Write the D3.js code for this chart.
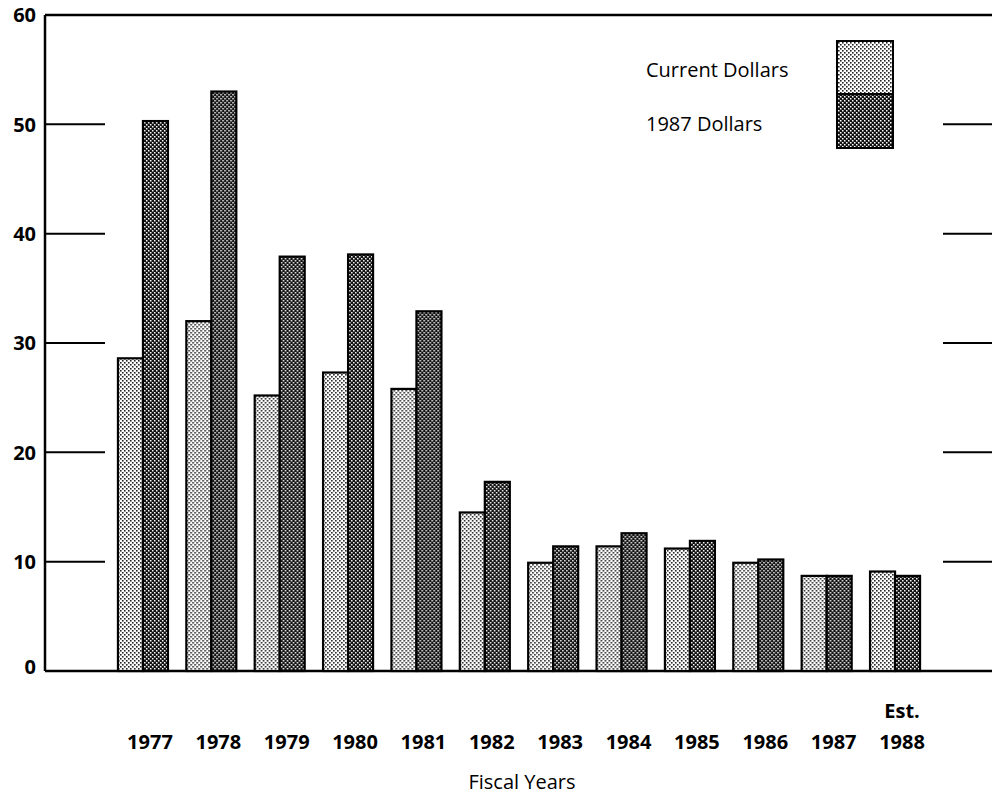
<!DOCTYPE html>
<html>
<head>
<meta charset="utf-8">
<script src="https://cdn.jsdelivr.net/npm/d3@7"></script>
<style>
  html, body { margin: 0; padding: 0; background: #fff; }
  svg { display: block; }
  text { font-family: "Open Sans", "DejaVu Sans", sans-serif; fill: #000; }
</style>
</head>
<body>
<script>
// Fiscal years and amounts (billions of dollars)
const years = ["1977", "1978", "1979", "1980", "1981", "1982", "1983", "1984", "1985", "1986", "1987", "1988"];
const currentDollars = [28.6, 32.0, 25.2, 27.3, 25.8, 14.5, 9.9, 11.4, 11.2, 9.9, 8.7, 9.1];
const constantDollars = [50.3, 53.0, 37.9, 38.1, 32.9, 17.3, 11.4, 12.6, 11.9, 10.2, 8.7, 8.7];
const seriesNames = ["Current Dollars", "1987 Dollars"];
const yTicks = [0, 10, 20, 30, 40, 50, 60];
const estimateYear = "1988";

const W = 992, H = 796;
const plotLeft = 45, plotTop = 15, plotBottom = 671, rightEdge = 992;

const svg = d3.select("body").append("svg").attr("width", W).attr("height", H);

// Halftone-style fills
const defs = svg.append("defs");
const light = defs.append("pattern").attr("id", "light").attr("patternUnits", "userSpaceOnUse")
  .attr("width", 4).attr("height", 4);
light.append("rect").attr("width", 4).attr("height", 4).attr("fill", "#fff");
light.append("rect").attr("x", 0).attr("y", 0).attr("width", 1.6).attr("height", 1.6).attr("fill", "#222");
light.append("rect").attr("x", 2).attr("y", 2).attr("width", 1.6).attr("height", 1.6).attr("fill", "#222");

const dark = defs.append("pattern").attr("id", "dark").attr("patternUnits", "userSpaceOnUse")
  .attr("width", 4).attr("height", 4);
dark.append("rect").attr("width", 4).attr("height", 4).attr("fill", "#111");
dark.append("rect").attr("x", 0).attr("y", 0).attr("width", 1.5).attr("height", 1.5).attr("fill", "#fff");
dark.append("rect").attr("x", 2).attr("y", 2).attr("width", 1.5).attr("height", 1.5).attr("fill", "#fff");

const fills = ["url(#light)", "url(#dark)"];

const y = d3.scaleLinear().domain([0, 60]).range([plotBottom, plotTop]);
const x0 = d3.scaleBand().domain(years).range([99.5, 938.5]).paddingInner(0.2686).paddingOuter(0.27);
const x1 = d3.scaleBand().domain([0, 1]).range([0, x0.bandwidth()]);

// Frame: left axis, top line, baseline
svg.append("line").attr("x1", plotLeft).attr("x2", plotLeft).attr("y1", plotTop).attr("y2", plotBottom)
  .attr("stroke", "#000").attr("stroke-width", 2.5);
svg.append("line").attr("x1", plotLeft).attr("x2", rightEdge).attr("y1", plotTop).attr("y2", plotTop)
  .attr("stroke", "#000").attr("stroke-width", 2.5);
svg.append("line").attr("x1", plotLeft).attr("x2", rightEdge).attr("y1", plotBottom).attr("y2", plotBottom)
  .attr("stroke", "#000").attr("stroke-width", 2.5);

// Tick marks on both sides
const innerTicks = yTicks.filter(v => v > 0 && v < 60);
svg.append("g").selectAll("line").data(innerTicks).join("line")
  .attr("x1", plotLeft).attr("x2", 105).attr("y1", d => y(d)).attr("y2", d => y(d))
  .attr("stroke", "#000").attr("stroke-width", 2);
svg.append("g").selectAll("line").data(innerTicks).join("line")
  .attr("x1", 943).attr("x2", rightEdge).attr("y1", d => y(d)).attr("y2", d => y(d))
  .attr("stroke", "#000").attr("stroke-width", 2);

// Y tick labels
svg.append("g").selectAll("text").data(yTicks).join("text")
  .attr("x", 36).attr("y", d => y(d) - (d === 0 ? 4 : 0)).attr("dy", "0.36em")
  .attr("text-anchor", "end").attr("font-size", 20).attr("font-weight", "bold")
  .text(d => d);

// Bars
const groups = svg.append("g").selectAll("g").data(years).join("g")
  .attr("transform", d => `translate(${x0(d)},0)`);
groups.selectAll("rect")
  .data((d, i) => [currentDollars[i], constantDollars[i]])
  .join("rect")
  .attr("x", (d, j) => x1(j))
  .attr("width", x1.bandwidth())
  .attr("y", d => y(d))
  .attr("height", d => y(0) - y(d))
  .attr("fill", (d, j) => fills[j])
  .attr("stroke", "#000").attr("stroke-width", 2.2);

// Year labels
svg.append("g").selectAll("text").data(years).join("text")
  .attr("x", d => x0(d) + x0.bandwidth() / 2 + 7).attr("y", 749)
  .attr("text-anchor", "middle").attr("font-size", 20).attr("font-weight", "bold")
  .text(d => d);
svg.append("text")
  .attr("x", x0(estimateYear) + x0.bandwidth() / 2 + 7).attr("y", 718)
  .attr("text-anchor", "middle").attr("font-size", 20).attr("font-weight", "bold")
  .text("Est.");

// Axis title
svg.append("text").attr("x", 522).attr("y", 789).attr("text-anchor", "middle")
  .attr("font-size", 20).text("Fiscal Years");

// Legend: stacked swatch with labels to the left
const lg = svg.append("g");
lg.append("rect").attr("x", 837).attr("y", 41).attr("width", 56).attr("height", 53)
  .attr("fill", fills[0]).attr("stroke", "#000").attr("stroke-width", 2);
lg.append("rect").attr("x", 837).attr("y", 94).attr("width", 56).attr("height", 54)
  .attr("fill", fills[1]).attr("stroke", "#000").attr("stroke-width", 2);
lg.append("text").attr("x", 646).attr("y", 77).attr("font-size", 20).text(seriesNames[0]);
lg.append("text").attr("x", 646).attr("y", 131).attr("font-size", 20).text(seriesNames[1]);
</script>
</body>
</html>
